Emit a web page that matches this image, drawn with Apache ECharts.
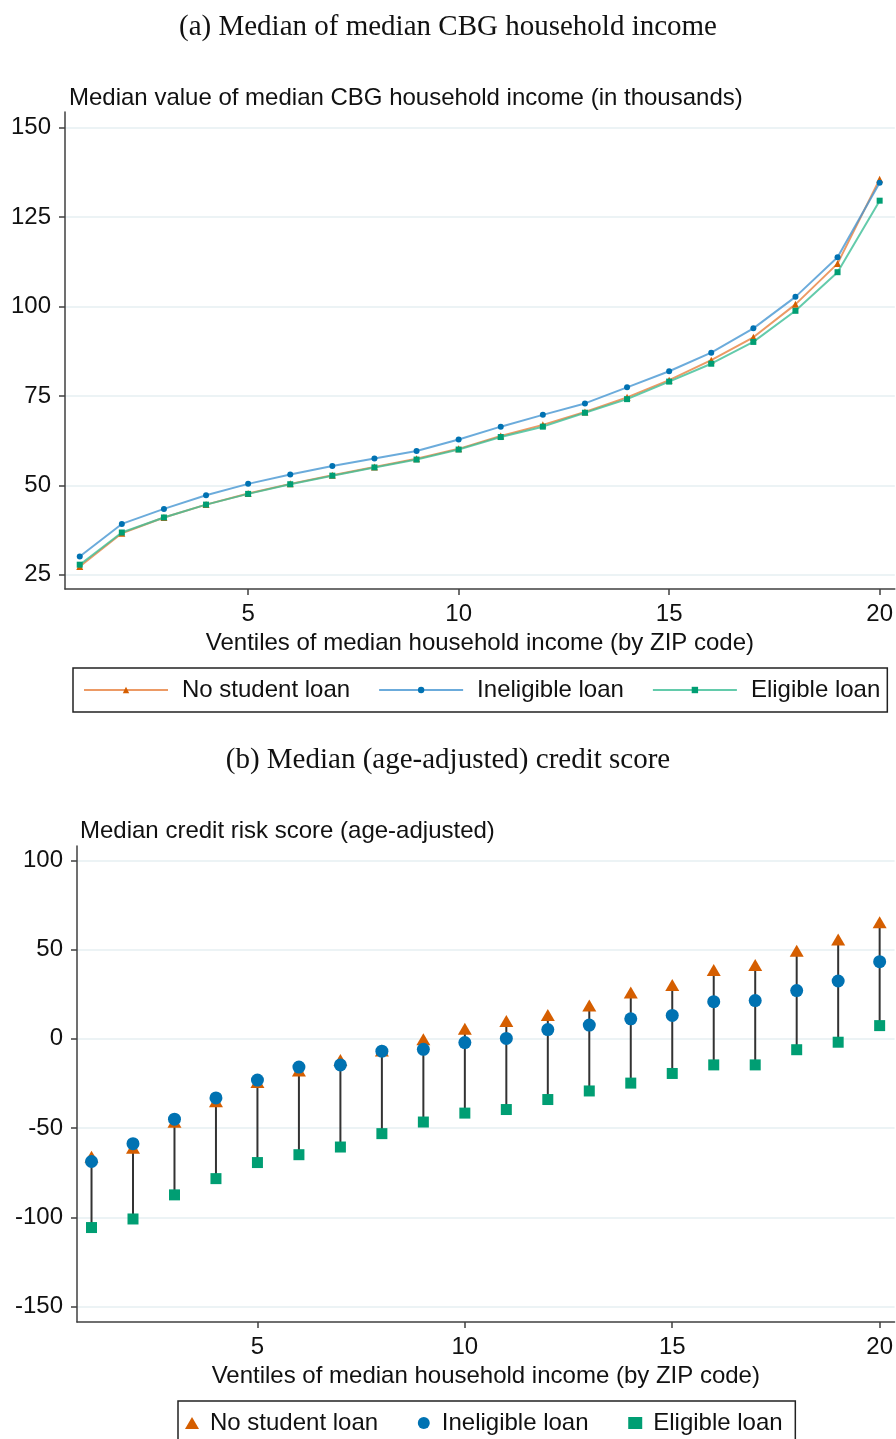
<!DOCTYPE html>
<html><head><meta charset="utf-8">
<script src="https://cdn.jsdelivr.net/npm/echarts@6/dist/echarts.min.js"></script>
<style>html,body{margin:0;padding:0;background:#fff}#c{width:896px;height:1439px}</style>
</head><body><div id="c"></div>
<script>
const ventiles = [1,2,3,4,5,6,7,8,9,10,11,12,13,14,15,16,17,18,19,20];
const seriesNames = ['No student loan', 'Ineligible loan', 'Eligible loan'];
const xTicks = [5, 10, 15, 20];
const incomeTicks = [25, 50, 75, 100, 125, 150];
const scoreTicks = [-150, -100, -50, 0, 50, 100];

const incomeNoLoan = [27.3, 36.6, 41.0, 44.6, 47.7, 50.4, 52.8, 55.1, 57.4, 60.2, 63.8, 66.9, 70.5, 74.6, 79.4, 85.0, 91.4, 100.6, 112.0, 135.6];
const incomeIneligible = [30.1, 39.2, 43.4, 47.2, 50.4, 53.0, 55.4, 57.5, 59.6, 62.8, 66.4, 69.7, 72.9, 77.4, 81.9, 87.1, 93.9, 102.7, 113.8, 134.6];
const incomeEligible = [27.8, 36.8, 41.0, 44.6, 47.6, 50.3, 52.7, 55.0, 57.2, 60.0, 63.5, 66.4, 70.3, 74.1, 79.0, 84.0, 90.1, 98.8, 109.6, 129.6];

const scoreNoLoan = [-66, -61, -46.5, -35, -24.2, -17.7, -11.9, -6.5, -0.3, 5.6, 10.0, 13.3, 18.7, 26.0, 30.1, 38.6, 41.4, 49.3, 55.7, 65.3];
const scoreIneligible = [-68.7, -58.7, -45.0, -33.1, -23.1, -15.8, -14.6, -6.9, -5.9, -2.1, 0.2, 5.2, 7.7, 11.2, 13.1, 20.8, 21.4, 27.0, 32.4, 43.2];
const scoreEligible = [-105.7, -100.9, -87.4, -78.3, -69.3, -64.9, -60.6, -53.1, -46.6, -41.6, -39.6, -34.0, -29.2, -24.8, -19.4, -14.6, -14.6, -6.1, -1.9, 7.4];

const SANS = '"Liberation Sans", Arial, Helvetica, sans-serif';
const SERIF = '"Liberation Serif", "Times New Roman", serif';
const markerColors = ['#D55E00', '#0072B2', '#009E73'];
const lineColors = ['rgba(230,120,50,0.75)', 'rgba(70,150,210,0.8)', 'rgba(60,190,150,0.8)'];
const symbols = ['triangle', 'circle', 'rect'];
const FS = 24;
const axisColor = '#404040';
const gridColor = '#E6EFF2';

function pairs(ys) { return ventiles.map((x, i) => [x, ys[i]]); }

const incomeData = [incomeNoLoan, incomeIneligible, incomeEligible];
const scoreData = [scoreNoLoan, scoreIneligible, scoreEligible];
const rangeData = ventiles.map((x, i) => {
  const vals = [scoreNoLoan[i], scoreIneligible[i], scoreEligible[i]];
  return [x, Math.min(...vals), Math.max(...vals)];
});

function xAxisCfg(gridIndex) {
  return {
    type: 'value', gridIndex: gridIndex, min: 0.65, max: 20.36,
    name: 'Ventiles of median household income (by ZIP code)',
    nameLocation: 'middle', nameGap: 42,
    nameTextStyle: { fontFamily: SANS, fontSize: FS, color: '#111' },
    axisLine: { onZero: false, lineStyle: { color: axisColor, width: 1.5 } },
    axisTick: { show: true, length: 6, customValues: xTicks, lineStyle: { color: axisColor, width: 1.5 } },
    axisLabel: { customValues: xTicks, margin: 13, fontFamily: SANS, fontSize: FS, color: '#111' },
    splitLine: { show: false }
  };
}
function yAxisCfg(gridIndex, min, max, ticks) {
  return {
    type: 'value', gridIndex: gridIndex, min: min, max: max,
    axisLine: { show: true, onZero: false, lineStyle: { color: axisColor, width: 1.5 } },
    axisTick: { show: true, length: 6, customValues: ticks, lineStyle: { color: axisColor, width: 1.5 } },
    axisLabel: { customValues: ticks, margin: 14, fontFamily: SANS, fontSize: FS, color: '#111' },
    splitLine: { show: true, lineStyle: { color: gridColor, width: 1.5 } }
  };
}

const series = [];
seriesNames.forEach((n, k) => {
  series.push({
    name: n, type: 'line', xAxisIndex: 0, yAxisIndex: 0,
    data: pairs(incomeData[k]), symbol: symbols[k],
    symbolSize: k === 0 ? 7 : 6, showSymbol: true,
    itemStyle: { color: markerColors[k] },
    lineStyle: { color: lineColors[k], width: 2 },
    z: 3 + (k === 1 ? 0 : k), animation: false
  });
});
series.push({
  name: 'range', type: 'custom', xAxisIndex: 1, yAxisIndex: 1,
  data: rangeData, encode: { x: 0, y: [1, 2] }, z: 1, animation: false,
  renderItem: function (params, api) {
    const x = api.value(0);
    const p1 = api.coord([x, api.value(1)]);
    const p2 = api.coord([x, api.value(2)]);
    return { type: 'line', shape: { x1: p1[0], y1: p1[1], x2: p2[0], y2: p2[1] },
             style: { stroke: '#333', lineWidth: 2 } };
  }
});
seriesNames.forEach((n, k) => {
  series.push({
    name: n + ' ', type: 'scatter', xAxisIndex: 1, yAxisIndex: 1,
    data: pairs(scoreData[k]), symbol: symbols[k],
    symbolSize: k === 0 ? [14, 12] : (k === 1 ? 13 : 11),
    itemStyle: { color: markerColors[k], opacity: 1 },
    z: k === 1 ? 4 : 3, animation: false
  });
});

const chart = echarts.init(document.getElementById('c'), null, { renderer: 'canvas' });
chart.setOption({
  backgroundColor: '#fff',
  animation: false,
  title: [
    { text: '(a) Median of median CBG household income', left: 'center', top: 8,
      textStyle: { fontFamily: SERIF, fontSize: 29, fontWeight: 'normal', color: '#111' } },
    { text: 'Median value of median CBG household income (in thousands)', left: 64, top: 81,
      textStyle: { fontFamily: SANS, fontSize: FS, fontWeight: 'normal', color: '#111' } },
    { text: '(b) Median (age-adjusted) credit score', left: 'center', top: 741,
      textStyle: { fontFamily: SERIF, fontSize: 29, fontWeight: 'normal', color: '#111' } },
    { text: 'Median credit risk score (age-adjusted)', left: 75, top: 814,
      textStyle: { fontFamily: SANS, fontSize: FS, fontWeight: 'normal', color: '#111' } }
  ],
  grid: [
    { left: 65, right: 1, top: 112, bottom: 1439 - 589 },
    { left: 77, right: 1, top: 846, bottom: 1439 - 1322 }
  ],
  xAxis: [xAxisCfg(0), xAxisCfg(1)],
  yAxis: [yAxisCfg(0, 21, 154.4, incomeTicks), yAxisCfg(1, -158.6, 108, scoreTicks)],
  legend: [
    { data: seriesNames, left: 73, top: 668, orient: 'horizontal',
      itemWidth: 84, itemHeight: 8, itemGap: 28,
      padding: [10, 7, 10, 10], borderColor: '#222', borderWidth: 1.5, borderRadius: 0,
      textStyle: { fontFamily: SANS, fontSize: FS, color: '#111', padding: [0, 0, 0, 9] },
      selectedMode: false },
    { data: seriesNames.map(n => ({ name: n + ' ', icon: symbols[seriesNames.indexOf(n)] })),
      left: 178, top: 1401, orient: 'horizontal',
      itemWidth: 14, itemHeight: 12, itemGap: 33,
      padding: [10, 6, 14, 7], borderColor: '#222', borderWidth: 1.5, borderRadius: 0,
      textStyle: { fontFamily: SANS, fontSize: FS, color: '#111', padding: [0, 0, 0, 6] },
      selectedMode: false }
  ],
  series: series
});
</script></body></html>
